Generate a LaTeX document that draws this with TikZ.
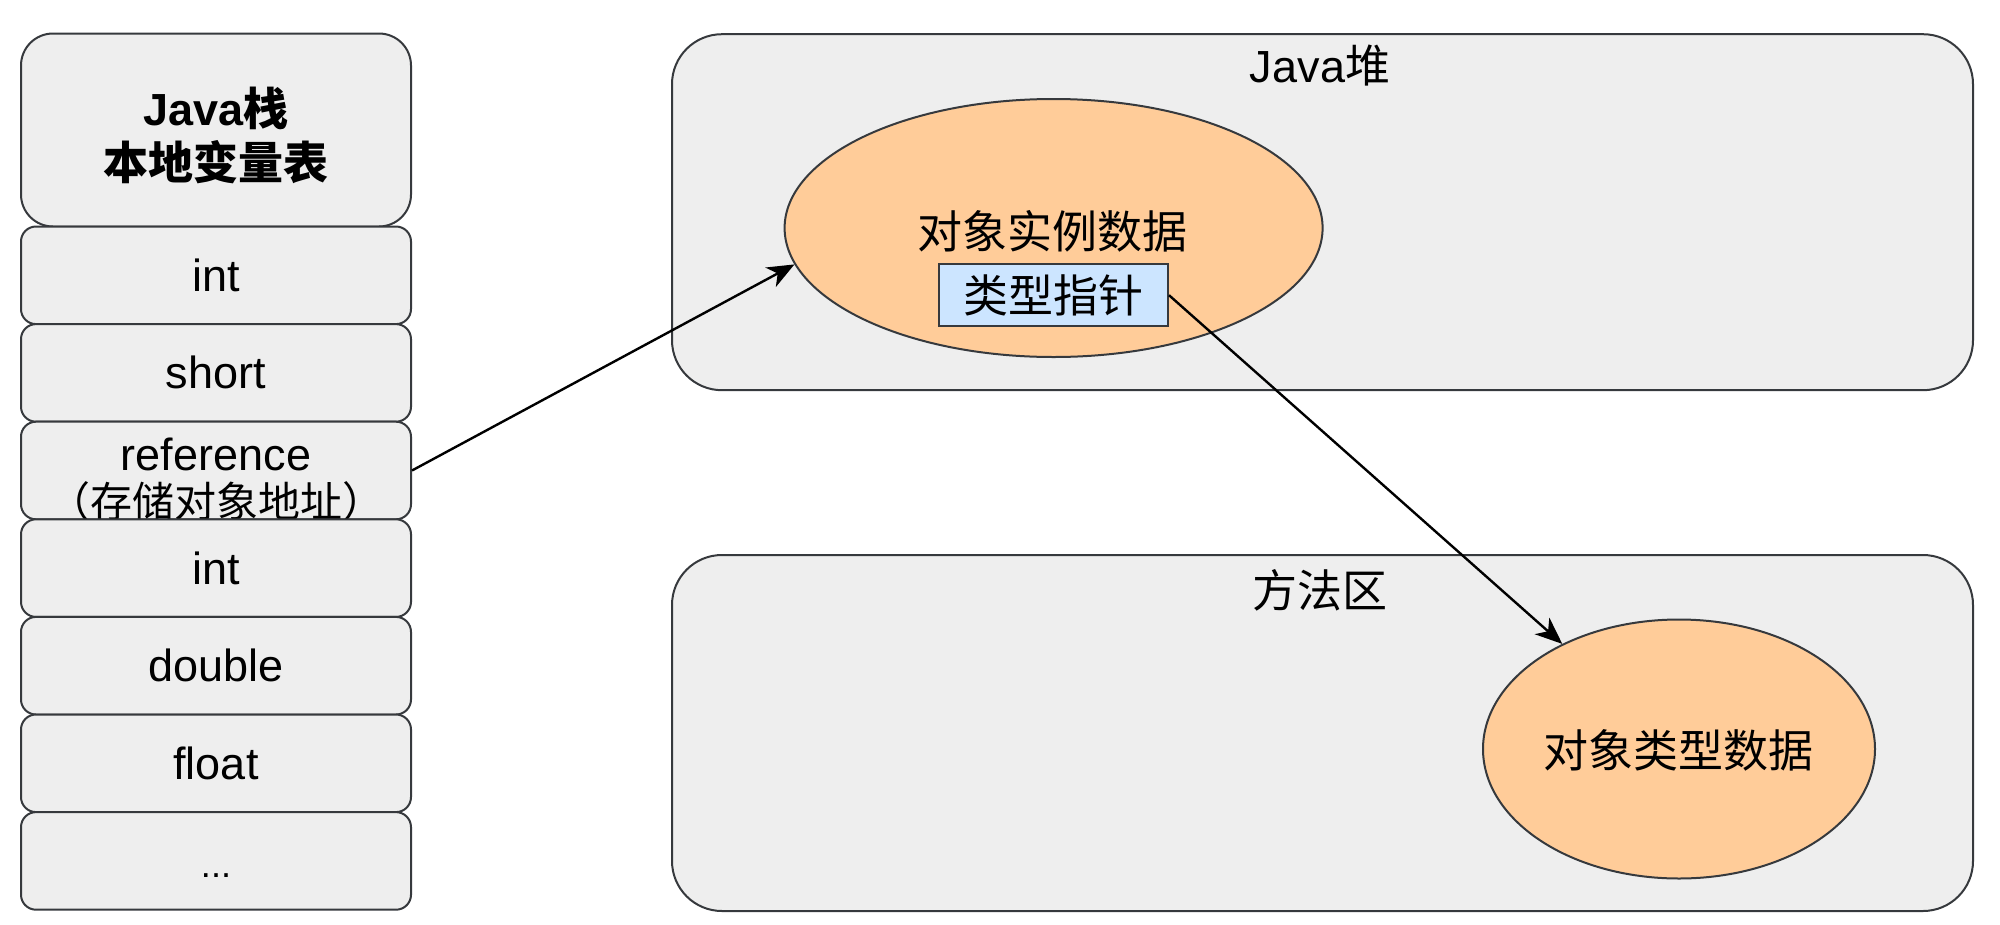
\documentclass[tikz,border=0pt]{standalone}
\usepackage{fontspec}
\setmainfont{Liberation Sans}
\newfontfamily\cjk{Noto Sans CJK SC}
\usetikzlibrary{shapes.geometric,arrows.meta}
\definecolor{boxfill}{HTML}{EEEEEE}
\definecolor{boxline}{HTML}{36393D}
\definecolor{orangefill}{HTML}{FFCC99}
\definecolor{bluefill}{HTML}{CCE5FF}
\begin{document}
\begin{tikzpicture}[x=1pt,y=-1pt,
  every node/.style={font=\fontsize{45}{52}\selectfont, text=black},
  stackrow/.style={draw=boxline, fill=boxfill, line width=2pt, rounded corners=15pt,
    minimum width=390pt, minimum height=97.6pt, inner sep=0pt, align=center},
  stackhead/.style={draw=boxline, fill=boxfill, line width=2pt, rounded corners=32pt,
    minimum width=390pt, minimum height=193pt, inner sep=0pt, align=center},
  area/.style={draw=boxline, fill=boxfill, line width=2pt, rounded corners=50pt,
    minimum width=1301pt, minimum height=356pt, inner sep=0pt},
  blob/.style={ellipse, draw=boxline, fill=orangefill, line width=2pt, inner sep=0pt},
  ptrbox/.style={draw=boxline, fill=bluefill, line width=2pt, minimum width=229pt,
    minimum height=62pt, inner sep=0pt},
  label/.style={inner sep=0pt, align=center},
  conn/.style={draw=black, line width=2.4pt, -{Stealth[length=27pt,width=22pt,inset=8pt]}}
]
\useasboundingbox (0,0) rectangle (2000,924);
% left stack
\node[stackhead] (head) at (216,130) {};
\node[label] (headtext) at (216,135) {\bfseries Java{\cjk 栈}\\[2pt]{\cjk\bfseries 本地变量表}};
\node[stackrow] (r1) at (216,275.3) {int};
\node[stackrow] (r2) at (216,372.9) {short};
\node[stackrow] (r3) at (216,470.5) {};
\node[label] (r3text) at (216,480) {reference\\[-5pt]{\cjk\fontsize{42}{46}\selectfont （存储对象地址）}};
\node[stackrow] (r4) at (216,568.1) {int};
\node[stackrow] (r5) at (216,665.7) {double};
\node[stackrow] (r6) at (216,763.3) {float};
\node[stackrow] (r7) at (216,860.9) {\vphantom{int}{\fontsize{36}{40}\selectfont ...}};
% heap and method area
\node[area] (heap) at (1322.5,212.2) {};
\node[label] (heaptitle) at (1320,66) {Java{\cjk 堆}};
\node[area] (method) at (1322.5,733) {};
\node[label] (methodtitle) at (1320,590) {\cjk 方法区};
% object instance
\node[blob, minimum width=538pt, minimum height=258pt] (obj) at (1053.6,228) {};
\node[label] (objtext) at (1052,231) {\cjk 对象实例数据};
\node[ptrbox] (ptr) at (1053.5,295.2) {\cjk 类型指针};
% type data
\node[blob, minimum width=392pt, minimum height=259pt] (typ) at (1679,749) {};
\node[label] (typtext) at (1678.5,750) {\cjk 对象类型数据};
% connectors
\draw[conn] (r3.east) -- (obj.188);
\draw[conn] (ptr.east) -- (typ.138);
\end{tikzpicture}
\end{document}
